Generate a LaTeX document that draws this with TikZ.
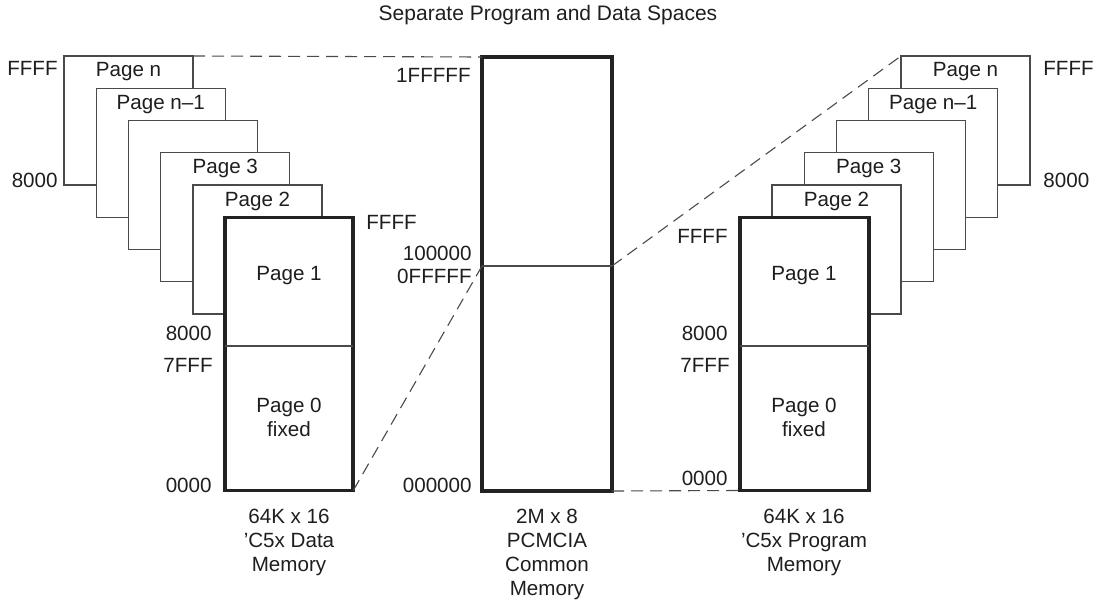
\documentclass[tikz,border=0pt]{standalone}
\usepackage{fontspec}
\setmainfont{Liberation Sans}
\usetikzlibrary{calc}
\definecolor{thincol}{HTML}{4A4A4A}
\definecolor{thickcol}{HTML}{222222}
\definecolor{textcol}{HTML}{1E1E1E}
\begin{document}
\begin{tikzpicture}[x=0.5pt,y=-0.5pt,
  thinbox/.style={draw=thincol, line width=0.55pt, fill=white, anchor=north west,
    minimum width=64.5pt, minimum height=64.5pt, inner sep=0pt, outer sep=0pt},
  thickbox/.style={draw=thickcol, line width=1.8pt, fill=white, anchor=north west,
    inner sep=0pt, outer sep=0pt},
  txt/.style={inner sep=0pt, text=textcol, font=\fontsize{10.3}{12}\selectfont, align=center},
  link/.style={draw=thincol, line width=0.55pt, dash pattern=on 6pt off 3.5pt},
  divline/.style={draw=thincol, line width=0.55pt}]
\useasboundingbox (0,0) rectangle (1099,605);

% title
\node[txt, font=\fontsize{10.5}{12}\selectfont] (title) at (548,15) {Separate Program and Data Spaces};

% ---------- left stack (data memory) ----------
\node[thinbox] (lpn) at (64,56) {};
\node[thinbox] (lpm) at (96.25,88.25) {};
\node[thinbox] (lpx) at (128.5,120.5) {};
\node[thinbox] (lp3) at (160.75,152.75) {};
\node[thinbox] (lp2) at (193,185) {};
\node[thickbox, minimum width=64pt, minimum height=136.5pt] (lp1) at (225.25,217.5) {};
\coordinate (ldiv) at (0,346);
\draw[divline] (lp1.west |- ldiv) -- (lp1.east |- ldiv);

\node[txt] (lpnt) at ($(lpn.north)+(0,16)$) {Page n};
\node[txt] (lpmt) at ($(lpm.north)+(0,16)$) {Page n--1};
\node[txt] (lp3t) at ($(lp3.north)+(0,16)$) {Page 3};
\node[txt] (lp2t) at ($(lp2.north)+(0,16)$) {Page 2};
\node[txt] (lp1t) at (289,276) {Page 1};
\node[txt] (lp0t) at (289,417) {Page 0\\fixed};

\node[txt, anchor=east] (lffff) at (58,68) {FFFF};
\node[txt, anchor=east] (l8000) at (58,180) {8000};
\node[txt, anchor=west] (lffff2) at (366,222) {FFFF};
\node[txt, anchor=east] (l8000b) at (212,333) {8000};
\node[txt, anchor=east] (l7fff) at (213,365) {7FFF};
\node[txt, anchor=east] (l0000) at (212,485) {0000};
\node[txt] (lcap) at (289,542.5) {64K x 16\\’C5x Data\\Memory};

% ---------- middle (PCMCIA) ----------
\node[thickbox, minimum width=65pt, minimum height=217pt] (mid) at (482,57) {};
\coordinate (mdiv) at (0,266);
\coordinate (mdl) at (mid.west |- mdiv);
\coordinate (mdr) at (mid.east |- mdiv);
\draw[divline] (mdl) -- (mdr);
\node[txt, anchor=east] (m1f) at (471,75) {1FFFFF};
\node[txt, anchor=east] (m10) at (472,253) {100000};
\node[txt, anchor=east] (m0f) at (472,276) {0FFFFF};
\node[txt, anchor=east] (m00) at (472,485) {000000};
\node[txt] (mcap) at (547,554.5) {2M x 8\\PCMCIA\\Common\\Memory};

% ---------- right stack (program memory) ----------
\node[thinbox] (rpn) at (901,56) {};
\node[thinbox] (rpm) at (868.75,88.25) {};
\node[thinbox] (rpx) at (836.5,120.5) {};
\node[thinbox] (rp3) at (804.25,152.75) {};
\node[thinbox] (rp2) at (772,185) {};
\node[thickbox, minimum width=64.5pt, minimum height=136.5pt] (rp1) at (740,217.5) {};
\draw[divline] (rp1.west |- ldiv) -- (rp1.east |- ldiv);

\node[txt] (rpnt) at ($(rpn.north)+(0,16)$) {Page n};
\node[txt] (rpmt) at ($(rpm.north)+(0,16)$) {Page n--1};
\node[txt] (rp3t) at ($(rp3.north)+(0,16)$) {Page 3};
\node[txt] (rp2t) at ($(rp2.north)+(0,16)$) {Page 2};
\node[txt] (rp1t) at (804,276) {Page 1};
\node[txt] (rp0t) at (804,417) {Page 0\\fixed};

\node[txt, anchor=west] (rffff) at (1043,68) {FFFF};
\node[txt, anchor=west] (r8000) at (1043,180) {8000};
\node[txt, anchor=east] (rffff2) at (728,236) {FFFF};
\node[txt, anchor=east] (r8000b) at (728,333) {8000};
\node[txt, anchor=east] (r7fff) at (730,365) {7FFF};
\node[txt, anchor=east] (r0000) at (728,478) {0000};
\node[txt] (rcap) at (804,542.5) {64K x 16\\’C5x Program\\Memory};

% ---------- dashed mapping lines ----------
\draw[link] (lpn.north east) -- (mid.north west);
\draw[link] (lp1.south east) -- (mdl);
\draw[link] (mdr) -- (rpn.north west);
\draw[link] (mid.south east) -- (rp1.south west);
\end{tikzpicture}
\end{document}
